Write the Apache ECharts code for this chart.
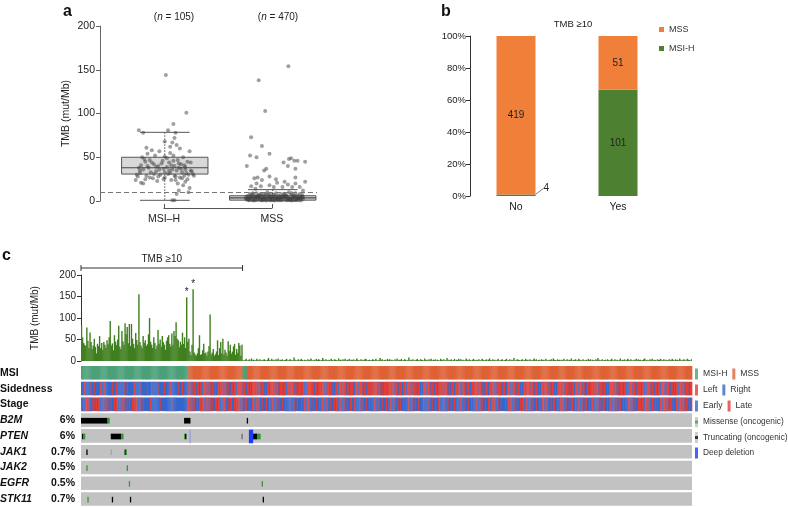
<!DOCTYPE html>
<html>
<head>
<meta charset="utf-8">
<script src="https://cdn.jsdelivr.net/npm/echarts@6/dist/echarts.min.js"></script>
<style>
  html, body { margin: 0; padding: 0; background: #fff; }
  #chart { width: 788px; height: 507px; }
</style>
</head>
<body>
<div id="chart"></div>
<script>
// ---------- panel a: TMB by MSI status ----------
const groupNames = ['MSI–H', 'MSS'];
const groupCounts = [105, 470];
// min, q1, median, q3, max
const boxStats = [[0.8, 30.8, 38, 50, 78.5], [0, 1, 3.5, 6, 13]];
// [jitter, TMB]
const msiPoints = [
  [0.01, 144], [0.2, 101], [0.08, 88], [-0.24, 81], [0.03, 81], [0.1, 78], [-0.2, 78], [0.09, 72],
  [0.0, 68], [0.07, 67], [0.14, 60], [-0.12, 58], [-0.05, 57], [-0.16, 54], [0.05, 55], [-0.09, 52],
  [0.17, 50], [0.0, 51], [-0.21, 50], [0.12, 47], [-0.14, 47], [0.21, 45], [-0.02, 46], [0.04, 44],
  [0.15, 42], [-0.18, 45], [-0.1, 42], [0.09, 40], [-0.06, 40], [0.02, 39], [-0.24, 38], [0.19, 39],
  [0.13, 38], [-0.15, 38], [-0.01, 37], [0.07, 36], [-0.2, 36], [0.24, 35], [0.11, 35], [-0.08, 34],
  [-0.13, 33], [0.16, 33], [0.05, 32], [-0.23, 32], [0.26, 31], [0.22, 30], [-0.04, 30], [0.18, 29],
  [-0.17, 29], [0.1, 28], [-0.25, 28], [0.0, 27], [0.14, 27], [-0.11, 26], [0.21, 25], [-0.27, 24],
  [0.06, 24], [-0.07, 23], [0.19, 22], [-0.22, 21], [0.12, 20], [-0.2, 20], [0.17, 18], [0.23, 15],
  [0.13, 12], [0.22, 10], [0.11, 8], [0.07, 1], [0.09, 1], [-0.19, 48], [0.02, 49], [0.08, 46],
  [-0.12, 44], [0.24, 44], [-0.03, 43], [0.18, 41], [-0.22, 41], [0.06, 41], [-0.16, 40], [0.15, 37],
  [-0.05, 36], [0.25, 34], [-0.1, 31], [0.03, 31], [0.2, 32], [-0.26, 30], [0.09, 29], [-0.14, 27],
  [0.16, 26], [-0.01, 25], [0.1, 24], [-0.18, 25], [0.27, 29], [0.04, 35], [-0.08, 39], [0.13, 43],
  [-0.23, 35], [0.0, 33], [0.19, 36], [-0.06, 28], [0.08, 52], [0.23, 57], [-0.17, 61], [0.11, 64], [0.05, 62]
];
const mssPoints = [
  [0.145, 154], [-0.13, 138], [-0.07, 103], [-0.2, 73], [-0.1, 63], [-0.21, 52], [-0.15, 50], [-0.03, 54],
  [-0.24, 40], [0.15, 48], [0.17, 49], [0.1, 44], [0.14, 40], [0.2, 46], [0.23, 46], [0.3, 45],
  [-0.06, 37], [-0.08, 35], [0.21, 37], [-0.14, 27], [-0.17, 26], [0.03, 25], [0.21, 27], [-0.15, 20],
  [-0.1, 24], [-0.03, 28], [0.11, 22], [0.14, 19], [0.21, 20], [0.25, 16], [-0.11, 17], [-0.03, 18],
  [0.04, 21], [0.01, 16], [0.09, 16], [0.18, 16], [-0.2, 17], [-0.16, 14], [0.28, 12], [0.3, 22],
  [-0.25, 3], [-0.23, 6], [-0.22, 1], [-0.21, 8], [-0.2, 4], [-0.19, 2], [-0.18, 7], [-0.17, 5],
  [-0.16, 1], [-0.15, 9], [-0.14, 3], [-0.13, 6], [-0.12, 2], [-0.11, 8], [-0.1, 4], [-0.09, 1],
  [-0.08, 7], [-0.07, 5], [-0.06, 3], [-0.05, 10], [-0.04, 2], [-0.03, 6], [-0.02, 4], [-0.01, 8],
  [0, 1], [0.01, 5], [0.02, 3], [0.03, 9], [0.04, 2], [0.05, 6], [0.06, 4], [0.07, 7],
  [0.08, 1], [0.09, 5], [0.1, 3], [0.11, 8], [0.12, 2], [0.13, 6], [0.14, 4], [0.15, 10],
  [0.16, 1], [0.17, 7], [0.18, 3], [0.19, 5], [0.2, 2], [0.21, 9], [0.22, 4], [0.23, 6],
  [0.24, 1], [0.25, 8], [0.26, 3], [0.27, 5], [0.28, 2],
  [-0.245, 5], [-0.225, 2], [-0.205, 4], [-0.185, 9], [-0.165, 3], [-0.145, 5], [-0.125, 7], [-0.105, 1],
  [-0.085, 3], [-0.065, 8], [-0.045, 5], [-0.025, 1], [-0.005, 3], [0.015, 7], [0.035, 4], [0.055, 1],
  [0.075, 3], [0.095, 8], [0.115, 5], [0.135, 1], [0.155, 3], [0.175, 9], [0.195, 6], [0.215, 1],
  [0.235, 3], [0.255, 5], [0.275, 7],
  [-0.24, 1.5], [-0.2, 6.5], [-0.16, 4.5], [-0.12, 3.5], [-0.08, 2.5], [-0.04, 7.5], [0, 5.5], [0.04, 3.5],
  [0.08, 4.5], [0.12, 6.5], [0.16, 2.5], [0.2, 5.5], [0.24, 3.5], [0.28, 4.5], [-0.22, 3.5], [-0.18, 0.5],
  [-0.14, 5.5], [-0.1, 6.5], [-0.06, 0.5], [-0.02, 2.5], [0.02, 0.5], [0.06, 2.5], [0.1, 5.5], [0.14, 2.5],
  [0.18, 0.5], [0.22, 2.5], [0.26, 0.5]
];

// ---------- panel b: MSI status by TMB >= 10 ----------
const tmbGroups = ['No', 'Yes'];
const mssCounts = [419, 51];
const msihCounts = [4, 101];

// ---------- panel c: oncoprint ----------
const tmbValues = [
  84, 55, 42, 38, 35, 78, 47, 30, 66, 44, 28, 36, 52, 33, 18, 40, 35, 58, 30, 42,
  26, 44, 38, 31, 48, 39, 55, 93, 36, 41, 25, 60, 45, 37, 50, 82, 34, 28, 70, 46,
  38, 88, 62, 79, 41, 86, 35, 86, 52, 40, 30, 65, 49, 38, 155, 44, 36, 30, 58, 42,
  48, 35, 39, 62, 100, 45, 38, 30, 55, 42, 28, 36, 72, 40, 50, 33, 58, 44, 38, 26,
  47, 55, 60, 40, 34, 64, 38, 70, 58, 90, 52, 48, 32, 45, 38, 66, 40, 55, 30, 148,
  45, 52, 22, 14, 38, 167, 20, 15, 12, 18, 30, 60, 14, 16, 25, 40, 18, 20, 13, 22,
  35, 108, 15, 20, 28, 12, 16, 22, 48, 14, 30, 44, 18, 52, 15, 26, 20, 12, 46, 24,
  38, 17, 22, 34, 40, 14, 28, 19, 42, 36, 12, 38,
  2, 1, 3, 5, 1, 2, 4, 1, 6, 2, 3, 1, 2, 5, 3, 1, 4, 2, 1, 3,
  4, 2, 1, 3, 7, 2, 1, 5, 2, 3, 1, 4, 2, 6, 1, 3, 2, 4, 1, 2,
  3, 5, 1, 2, 4, 3, 1, 2, 8, 3, 1, 2, 4, 1, 3, 5, 2, 1, 3, 2,
  1, 4, 2, 3, 6, 1, 2, 3, 1, 5, 2, 4, 3, 1, 2, 7, 3, 1, 4, 2,
  2, 3, 1, 5, 2, 1, 4, 3, 2, 1, 6, 2, 3, 1, 4, 2, 5, 1, 3, 2,
  5, 1, 3, 2, 4, 1, 2, 6, 3, 1, 2, 4, 1, 3, 2, 5, 4, 1, 2, 3,
  1, 2, 4, 3, 1, 5, 2, 1, 3, 7, 2, 4, 1, 2, 3, 1, 5, 2, 4, 1,
  3, 2, 1, 4, 2, 6, 1, 3, 2, 5, 1, 2, 4, 3, 1, 2, 8, 1, 3, 2,
  4, 1, 2, 3, 5, 2, 1, 4, 3, 2, 1, 6, 2, 3, 1, 4, 2, 5, 1, 3,
  2, 4, 1, 3, 2, 1, 5, 3, 2, 4, 1, 2, 7, 1, 3, 2, 4, 1, 2, 5,
  1, 3, 2, 5, 1, 4, 2, 3, 1, 2, 6, 3, 1, 4, 2, 1, 3, 5, 2, 1,
  3, 2, 4, 1, 2, 5, 3, 1, 2, 4, 1, 3, 6, 2, 1, 4, 2, 3, 1, 2,
  5, 2, 1, 3, 4, 1, 2, 3, 5, 1, 2, 4, 1, 3, 2, 7, 1, 2, 4, 3,
  2, 1, 3, 4, 1, 2, 5, 2, 3, 1, 4, 2, 1, 3, 6, 2, 4, 1, 2, 3,
  1, 4, 2, 3, 1, 5, 2, 1, 3, 2, 4, 1, 6, 3, 2, 1, 4, 2, 3, 1,
  3, 2, 5, 1, 2, 4, 1, 3, 2, 6, 1, 2, 3, 4, 1, 2, 5, 3, 1, 2,
  4, 1, 2, 3, 1, 5, 2, 4, 1, 3, 2, 1, 4, 2, 7, 3, 1, 2, 4, 1,
  2, 3, 1, 4, 2, 1, 3, 5, 2, 1, 4, 2, 3, 1, 2, 6, 1, 3, 2, 4,
  1, 2, 5, 3, 1, 4, 2, 1, 3, 2, 5, 1, 4, 2, 3, 1, 2, 4, 6, 1,
  3, 1, 2, 4, 2, 5, 1, 3, 2, 1, 4, 2, 3, 5, 1, 2, 4, 1, 3, 2,
  2, 4, 1, 3, 5, 2, 1, 4, 2, 3, 1, 6, 2, 1, 3, 4, 2, 1, 5, 3,
  2, 1, 4
];
const starred = [99, 105];
// MSI status in sample order: [status, count]
const msiRuns = [['MSI-H', 101], ['MSS', 51], ['MSI-H', 4], ['MSS', 419]];
// R = right, L = left
const sidedness = [
  'RRRLR RRRRL RRLRR RRRLR RRLRR', 'RRRRL RRRLR RRRRR LRRLR RRRRR', 'LRRRR LRRRR RRLRR RLRRR RRLRR',
  'RRRLR RRRRL RRRRR RLRRR LRRRR', 'RLLRL RLLRL LRLRR LLRLR LLRLL', 'RLRLL RLRLR LLRLR RLLRL LRLLL',
  'LLRLL RLLRL RLLLR LRLLR LLRLR', 'LLRLL LRLRL LRLLL RLLRL LRLLL', 'RLLRL LLRLL RLRLL LLLLR LLRLL',
  'LRLLR LRLLL LRLRL LLRLL RLLLR', 'LLRLL LRRLL LRLLL RLLRL LLLRL', 'RLLLR LLRLR LLLRL LLRLL RLLRL',
  'LLRLL LRLLR LRLLL LRLLR LRLLL', 'RLLRL LLRLL RLLLR LRLLL RLRLL', 'LRLLR LLRRL LLRLL LRLLR LLLRL',
  'LLRLR LLLRL LRLLR LRLLL LRLLR', 'RLLLR LRLLR LLLRL RLLRL LLRLL', 'LRLLL RLRLL RLLLR LLRLL RLRLL',
  'LLRLL RLLLR LRLLR LLLRL LRLLR', 'RLLRL LLRLR LLRLL LRLLR LRLLL', 'LRLLR LRLLL RLLRL RLLLR LLRLL',
  'LLRLL RLRLL LRLLR LLRLL RLLLR', 'RLLLR LLRLR LLRLL RLLRL LLRLL'
];
// E = early, L = late
const stage = [
  'LELEL LELEE LELEL ELLEL ELEEL', 'ELELE ELELL ELEEL ELELE LEELE', 'LELEE LEELE EEEEE LEEEE EEEEL',
  'EEEEE EEEEE LEEEE EEEEE EEEEE', 'LLELE LLEEL ELLEL LEELE LLELE', 'ELLEL EELEL LEELE LLEEL ELELL',
  'ELEEL LEELE ELLEE LELEE LEEEL', 'EELEE LEEEL ELEEL EELEE ELEEE', 'LEELE EELEE LEELL EEELE ELEEL',
  'EELEE ELEEL EEELE LEEEL EELEE', 'LEELL EELEE EELEE LEELE ELEEE', 'ELEEE LEELE EELEE ELEEL EEELE',
  'LEELE EEELE ELEEL EELEE EELEE', 'EELEE LEELE ELLEE ELEEE LEELE', 'ELEEL EELEE ELEEL EELEL EELEE',
  'LELEE LEELL EELEL EELEE LEEEL', 'EELEL EELEE LEELE LLEEL EELEE', 'LEELE ELEEL LEELE EELEL LEELE',
  'ELELE ELEEL ELLEE LEELE ELEEL', 'LEELE LLEEL ELEEL ELLEE LEELE', 'ELEEL ELLEE LELEE LLELE ELEEL',
  'LLELE ELLEL EELLE LELEE LLELL', 'ELLEL LELEE LLELL ELLEL LELEL'
];
const rowNames = ['MSI', 'Sidedness', 'Stage', 'B2M', 'PTEN', 'JAK1', 'JAK2', 'EGFR', 'STK11'];
const rowPct = ['', '', '', '6%', '6%', '0.7%', '0.5%', '0.5%', '0.7%'];
// [gene, first sample, last sample, alteration]
const mutationRuns = [
  ['B2M', 0, 24, 'Truncating'], ['B2M', 25, 26, 'Missense'], ['B2M', 97, 102, 'Truncating'], ['B2M', 156, 156, 'Truncating'],
  ['PTEN', 1, 1, 'Truncating'], ['PTEN', 2, 3, 'Missense'], ['PTEN', 28, 37, 'Truncating'], ['PTEN', 38, 39, 'Missense'],
  ['PTEN', 97, 97, 'Missense'], ['PTEN', 98, 98, 'Truncating'], ['PTEN', 102, 102, 'Deletion?'], ['PTEN', 151, 151, 'Truncating?'],
  ['PTEN', 158, 161, 'Deletion'], ['PTEN', 162, 165, 'Truncating'], ['PTEN', 166, 168, 'Missense'],
  ['JAK1', 5, 5, 'Truncating'], ['JAK1', 28, 28, 'Missense?'], ['JAK1', 41, 41, 'Truncating'], ['JAK1', 42, 42, 'Missense'],
  ['JAK2', 5, 5, 'Missense'], ['JAK2', 43, 43, 'Missense'],
  ['EGFR', 45, 45, 'Missense'], ['EGFR', 170, 170, 'Missense'],
  ['STK11', 6, 6, 'Missense'], ['STK11', 29, 29, 'Truncating'], ['STK11', 46, 46, 'Truncating'], ['STK11', 171, 171, 'Truncating']
];

// ---------- styling ----------
const FONT = '"Liberation Sans", Arial, Helvetica, sans-serif';
const statusColors = {
  'MSI-H': '#4ba079', 'MSS': '#de6235', 'L': '#e23d36', 'R': '#3566cc', 'E': '#3566cc', 'LATE': '#e23d36'
};
const altColors = {
  'Missense': '#2f9a2b', 'Missense?': '#7fc27a', 'Truncating': '#000000', 'Truncating?': '#6a6a6a',
  'Deletion': '#1b3cf5', 'Deletion?': '#8d9fe6'
};
const altCodes = Object.keys(altColors);
const statusCodes = ['MSI-H', 'MSS', 'L', 'R', 'E', 'LATE'];
const orangeB = '#f08039';
const greenB = '#4d8031';

const chart = echarts.init(document.getElementById('chart'));
const N = tmbValues.length;
const samples = tmbValues.map((_, i) => i);

// status cells [sample, row, code]
const statusCells = [];
let pos = 0;
msiRuns.forEach(([st, n]) => {
  for (let k = 0; k < n; k++) statusCells.push([pos + k, 0, statusCodes.indexOf(st)]);
  pos += n;
});
sidedness.join('').replace(/ /g, '').split('').forEach((c, i) => {
  statusCells.push([i, 1, statusCodes.indexOf(c)]);
});
stage.join('').replace(/ /g, '').split('').forEach((c, i) => {
  statusCells.push([i, 2, statusCodes.indexOf(c === 'L' ? 'LATE' : 'E')]);
});
const geneRows = rowNames.slice(3).map((g, k) => [0, k + 3, N - 1]);
const mutCells = mutationRuns.map(([g, a, b, t]) => [a, rowNames.indexOf(g), b, altCodes.indexOf(t)]);

function renderStatus(params, api) {
  const p = api.coord([api.value(0), api.value(1)]);
  const w = api.size([1, 0])[0];
  const h = api.size([0, 1])[1];
  return {
    type: 'rect',
    shape: { x: p[0] - w / 2, y: p[1] - h / 2 + 1, width: w + 0.35, height: h - 2.2 },
    style: { fill: statusColors[statusCodes[api.value(2)]] }
  };
}
function renderGeneRow(params, api) {
  const a = api.coord([api.value(0), api.value(1)]);
  const b = api.coord([api.value(2), api.value(1)]);
  const w = api.size([1, 0])[0];
  const h = api.size([0, 1])[1];
  return {
    type: 'rect',
    shape: { x: a[0] - w / 2, y: a[1] - h / 2 + 1, width: b[0] - a[0] + w, height: h - 2.2 },
    style: { fill: '#c2c2c2' }
  };
}
function renderMutation(params, api) {
  const a = api.coord([api.value(0), api.value(1)]);
  const b = api.coord([api.value(2), api.value(1)]);
  const w = api.size([1, 0])[0];
  const h = api.size([0, 1])[1];
  const kind = altCodes[api.value(3)];
  const full = kind.indexOf('Deletion') === 0;
  const mh = full ? h - 2.2 : h * 0.36;
  return {
    type: 'rect',
    shape: { x: a[0] - w / 2, y: a[1] - mh / 2 + 0.5, width: Math.max(b[0] - a[0] + w, 1.3), height: mh },
    style: { fill: altColors[kind] }
  };
}
function renderBox(params, api) {
  const x = api.value(0);
  const st = [1, 2, 3, 4, 5].map(k => api.value(k));
  const half = 0.4, cap = 0.23;
  const lt = api.coord([x - half, st[3]]);
  const rb = api.coord([x + half, st[1]]);
  const med = api.coord([x, st[2]]);
  const top = api.coord([x, st[4]]);
  const bot = api.coord([x, st[0]]);
  const cl = api.coord([x - cap, 0])[0];
  const cr = api.coord([x + cap, 0])[0];
  const stroke = '#555';
  return {
    type: 'group',
    children: [
      { type: 'line', shape: { x1: top[0], y1: top[1], x2: bot[0], y2: bot[1] }, style: { stroke, lineWidth: 1, lineDash: [1.5, 1.5] } },
      { type: 'rect', shape: { x: lt[0], y: lt[1], width: rb[0] - lt[0], height: rb[1] - lt[1] }, style: { fill: '#d8d8d8', stroke, lineWidth: 1 } },
      { type: 'line', shape: { x1: lt[0], y1: med[1], x2: rb[0], y2: med[1] }, style: { stroke: '#444', lineWidth: 1.2 } },
      { type: 'line', shape: { x1: cl, y1: top[1], x2: cr, y2: top[1] }, style: { stroke, lineWidth: 1 } },
      { type: 'line', shape: { x1: cl, y1: bot[1], x2: cr, y2: bot[1] }, style: { stroke, lineWidth: 1 } }
    ]
  };
}
const highCount = mssCounts[1] + msihCounts[1];
function renderBracket(params, api) {
  const a = api.coord([api.value(0), 200]);
  const b = api.coord([api.value(1), 200]);
  const w = api.size([1, 0])[0];
  const y = a[1] - 7;
  const x1 = a[0] - w / 2, x2 = b[0] + w / 2;
  return {
    type: 'group',
    children: [
      { type: 'line', shape: { x1, y1: y, x2, y2: y }, style: { stroke: '#333', lineWidth: 1 } },
      { type: 'line', shape: { x1, y1: y - 3, x2: x1, y2: y + 3 }, style: { stroke: '#333', lineWidth: 1 } },
      { type: 'line', shape: { x1: x2, y1: y - 3, x2, y2: y + 3 }, style: { stroke: '#333', lineWidth: 1 } },
      { type: 'text', x: (x1 + x2) / 2, y: y - 4, style: { text: 'TMB ≥10', fill: '#222', font: '10px ' + FONT, align: 'center', verticalAlign: 'bottom' } }
    ]
  };
}

const iconSvg = (c) => 'image://data:image/svg+xml;utf8,' + encodeURIComponent(
  "<svg xmlns='http://www.w3.org/2000/svg' width='3' height='11'><rect width='3' height='11' fill='#c2c2c2'/><rect y='4' width='3' height='3' fill='" + c + "'/></svg>");
const legendLabels = {
  cMSIH: 'MSI-H', cMSS: 'MSS', cLeft: 'Left', cRight: 'Right', cEarly: 'Early', cLate: 'Late',
  cMis: 'Missense (oncogenic)', cTrunc: 'Truncating (oncogenic)', cDel: 'Deep deletion'
};
const legendColors = {
  cMSIH: statusColors['MSI-H'], cMSS: statusColors['MSS'], cLeft: statusColors.L, cRight: statusColors.R,
  cEarly: statusColors.E, cLate: statusColors.LATE, cMis: altColors.Missense, cTrunc: '#000', cDel: altColors.Deletion
};
const dummySeries = Object.keys(legendLabels).map(name => ({
  name, type: 'scatter', xAxisIndex: 4, yAxisIndex: 4, data: [], itemStyle: { color: legendColors[name] }
}));

const axisText = { color: '#222', fontFamily: FONT };
const gridBase = { outerBoundsMode: 'none', containLabel: false };

const option = {
  animation: false,
  textStyle: { fontFamily: FONT },
  title: [
    { text: 'a', left: 58, top: -1, textStyle: { fontSize: 16, fontWeight: 'bold', color: '#111', fontFamily: FONT } },
    { text: 'b', left: 436, top: -1, textStyle: { fontSize: 16, fontWeight: 'bold', color: '#111', fontFamily: FONT } },
    { text: 'c', left: -3, top: 243, textStyle: { fontSize: 16, fontWeight: 'bold', color: '#111', fontFamily: FONT } },
    { text: '({i|n} = ' + groupCounts[0] + ')', left: 169, top: 7, textAlign: 'center',
      textStyle: { fontSize: 10, fontWeight: 'normal', color: '#222', fontFamily: FONT, rich: { i: { fontStyle: 'italic', fontSize: 10, fontFamily: FONT } } } },
    { text: '({i|n} = ' + groupCounts[1] + ')', left: 273, top: 7, textAlign: 'center',
      textStyle: { fontSize: 10, fontWeight: 'normal', color: '#222', fontFamily: FONT, rich: { i: { fontStyle: 'italic', fontSize: 10, fontFamily: FONT } } } },
    { text: 'TMB ≥10', left: 568, top: 14, textAlign: 'center', textStyle: { fontSize: 9.5, fontWeight: 'normal', color: '#222', fontFamily: FONT } }
  ],
  legend: [
    { data: ['MSS', 'MSI-H'], orient: 'vertical', left: 659, top: 25, padding: 0, icon: 'rect', itemWidth: 5, itemHeight: 5,
      itemGap: 10, selectedMode: false, textStyle: { fontSize: 9, color: '#333', fontFamily: FONT } },
    { data: ['cMSIH', 'cMSS', 'cLeft', 'cRight', 'cEarly', 'cLate'], orient: 'horizontal', left: 695, top: 368.5, width: 80,
      padding: 0, icon: 'rect', itemWidth: 3, itemHeight: 11, itemGap: 5, selectedMode: false,
      formatter: n => '{w|' + legendLabels[n] + '}',
      textStyle: { fontSize: 8.6, color: '#333', fontFamily: FONT,
        rich: { w: { width: 25, fontSize: 8.6, color: '#333', fontFamily: FONT } } } },
    { data: [{ name: 'cMis', icon: iconSvg(altColors.Missense) }, { name: 'cTrunc', icon: iconSvg('#000') }, { name: 'cDel', icon: 'rect' }],
      orient: 'vertical', left: 695, top: 416.5, padding: 0, itemWidth: 3, itemHeight: 11, itemGap: 4.5, selectedMode: false,
      formatter: n => legendLabels[n], textStyle: { fontSize: 8.3, color: '#333', fontFamily: FONT } }
  ],
  grid: [
    { ...gridBase, left: 100, top: 26, width: 217, height: 175 },
    { ...gridBase, left: 164, top: 200, width: 108, height: 8 },
    { ...gridBase, left: 465, top: 36, width: 204, height: 160 },
    { ...gridBase, left: 81, top: 275, width: 611, height: 86 },
    { ...gridBase, left: 81, top: 365, width: 611, height: 142 }
  ],
  xAxis: [
    { gridIndex: 0, type: 'value', min: 0.4, max: 2.41, show: false },
    { gridIndex: 1, type: 'value', min: 1, max: 2, interval: 1,
      axisLine: { lineStyle: { color: '#555' } }, axisTick: { inside: true, length: 4, lineStyle: { color: '#555' } },
      splitLine: { show: false },
      axisLabel: { formatter: v => groupNames[v - 1] || '', fontSize: 10.5, margin: 6, ...axisText } },
    { gridIndex: 2, type: 'category', data: tmbGroups, axisLine: { show: false }, axisTick: { show: false },
      axisLabel: { fontSize: 10.5, margin: 6, ...axisText } },
    { gridIndex: 3, type: 'category', data: samples, show: false },
    { gridIndex: 4, type: 'category', data: samples, show: false }
  ],
  yAxis: [
    { gridIndex: 0, type: 'value', min: 0, max: 200, interval: 50, name: 'TMB (mut/Mb)', nameLocation: 'middle', nameGap: 28,
      nameTextStyle: { fontSize: 10.5, color: '#222', fontFamily: FONT },
      axisLine: { show: true, lineStyle: { color: '#666' } }, axisTick: { show: true, length: 4, lineStyle: { color: '#666' } },
      splitLine: { show: false }, axisLabel: { fontSize: 10.5, margin: 5, ...axisText } },
    { gridIndex: 1, type: 'value', show: false },
    { gridIndex: 2, type: 'value', min: 0, max: 100, interval: 20, offset: -5,
      axisLine: { show: true, lineStyle: { color: '#333' } }, axisTick: { show: true, length: 4, lineStyle: { color: '#333' } },
      splitLine: { show: false }, axisLabel: { formatter: '{value}%', fontSize: 9.5, margin: 4, ...axisText } },
    { gridIndex: 3, type: 'value', min: 0, max: 200, interval: 50, name: 'TMB (mut/Mb)', nameLocation: 'middle', nameGap: 41,
      nameTextStyle: { fontSize: 10, color: '#222', fontFamily: FONT },
      axisLine: { show: true, lineStyle: { color: '#333' } }, axisTick: { show: true, length: 4, lineStyle: { color: '#333' } },
      splitLine: { show: false }, axisLabel: { fontSize: 10, margin: 5, ...axisText } },
    { gridIndex: 4, type: 'category', data: rowNames, inverse: true, axisLine: { show: false }, axisTick: { show: false },
      axisLabel: {
        interval: 0, align: 'left', margin: 81,
        formatter: (v, i) => '{' + (i < 3 ? 'nm' : 'it') + '|' + v + '}{pc|' + rowPct[i] + '}',
        rich: {
          nm: { width: 52, fontSize: 10.5, fontWeight: 'bold', color: '#111', fontFamily: FONT },
          it: { width: 52, fontSize: 10.5, fontWeight: 'bold', fontStyle: 'italic', color: '#111', fontFamily: FONT },
          pc: { width: 23, align: 'right', fontSize: 10.5, fontWeight: 'bold', color: '#111', fontFamily: FONT }
        }
      } }
  ],
  series: [
    { type: 'custom', xAxisIndex: 0, yAxisIndex: 0, renderItem: renderBox, silent: true,
      data: boxStats.map((s, i) => [i + 1, ...s]), z: 1 },
    { type: 'scatter', xAxisIndex: 0, yAxisIndex: 0, symbolSize: 4, silent: true, z: 2,
      itemStyle: { color: 'rgba(60,60,60,0.62)' },
      data: msiPoints.map(p => [1 + p[0], p[1]]).concat(mssPoints.map(p => [2 + p[0], p[1]])),
      markLine: { silent: true, symbol: 'none', label: { show: false },
        lineStyle: { type: [5, 3], color: '#777', width: 1 }, data: [{ yAxis: 10 }] } },
    { name: 'MSI-H', type: 'bar', stack: 'b', xAxisIndex: 2, yAxisIndex: 2, barWidth: 39,
      itemStyle: { color: greenB },
      data: msihCounts.map((c, i) => {
        const v = c / (c + mssCounts[i]) * 100;
        return i === 0 ? { value: v, label: { position: 'right' } } : v;
      }),
      label: { show: true, position: 'inside', formatter: p => msihCounts[p.dataIndex], fontSize: 10, color: '#222' },
      labelLayout: p => (p.dataIndex === 0 ? { dx: 3, dy: -7 } : {}),
      labelLine: { show: true, lineStyle: { color: '#555', width: 0.8 } } },
    { name: 'MSS', type: 'bar', stack: 'b', xAxisIndex: 2, yAxisIndex: 2, barWidth: 39,
      itemStyle: { color: orangeB },
      data: mssCounts.map((c, i) => c / (c + msihCounts[i]) * 100),
      label: { show: true, position: 'inside', formatter: p => mssCounts[p.dataIndex], fontSize: 10, color: '#222' } },
    { type: 'bar', xAxisIndex: 3, yAxisIndex: 3, barWidth: 1.4, itemStyle: { color: '#3f7f1f' }, silent: true,
      data: tmbValues.map((v, i) => starred.includes(i)
        ? { value: v, label: { show: true, formatter: '*', position: 'top', distance: 0, fontSize: 10, color: '#222' } }
        : v) },
    { type: 'custom', xAxisIndex: 3, yAxisIndex: 3, renderItem: renderBracket, clip: false, silent: true,
      data: [[0, highCount - 1]] },
    { type: 'custom', xAxisIndex: 4, yAxisIndex: 4, renderItem: renderStatus, silent: true, data: statusCells },
    { type: 'custom', xAxisIndex: 4, yAxisIndex: 4, renderItem: renderGeneRow, silent: true, data: geneRows },
    { type: 'custom', xAxisIndex: 4, yAxisIndex: 4, renderItem: renderMutation, silent: true, data: mutCells }
  ].concat(dummySeries)
};
chart.setOption(option);
</script>
</body>
</html>
